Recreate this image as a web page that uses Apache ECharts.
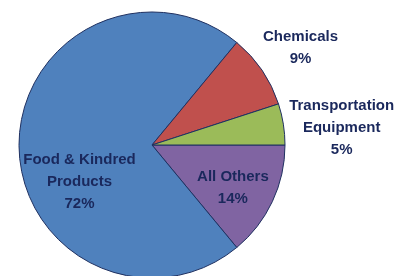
<!DOCTYPE html>
<html>
<head>
<meta charset="utf-8">
<script src="https://cdn.jsdelivr.net/npm/echarts@6/dist/echarts.min.js"></script>
<style>
  html, body { margin: 0; padding: 0; background: #fff; }
  #chart { width: 404px; height: 276px; }
</style>
</head>
<body>
<div id="chart"></div>
<script>
// slices in clockwise order starting at 3 o'clock
const categories = ["All Others", "Food & Kindred\nProducts", "Chemicals", "Transportation\nEquipment"];
const shares = [14, 72, 9, 5];
const colors = ["#8064A2", "#4F81BD", "#C0504D", "#9BBB59"];
const labelOffsets = [[18, 13], [-3, 37], [91, -58], [121, -6]];

const myChart = echarts.init(document.getElementById("chart"), null, { renderer: "canvas" });

myChart.setOption({
	animation: false,
	series: [
		{
			type: "pie",
			center: [152, 145],
			radius: 133,
			startAngle: 0,
			clockwise: true,
			avoidLabelOverlap: false,
			itemStyle: {
				borderColor: "#1F3060",
				borderWidth: 1,
			},
			label: {
				position: "inside",
				formatter: "{b}\n{c}%",
				color: "#1A285C",
				fontFamily: "Liberation Sans",
				fontWeight: "bold",
				fontSize: 15,
				lineHeight: 22,
				align: "center",
			},
			labelLine: { show: false },
			emphasis: { disabled: true },
			data: categories.map((name, i) => ({
				name: name,
				value: shares[i],
				itemStyle: { color: colors[i] },
				label: { offset: labelOffsets[i] },
			})),
		},
	],
});
</script>
</body>
</html>
